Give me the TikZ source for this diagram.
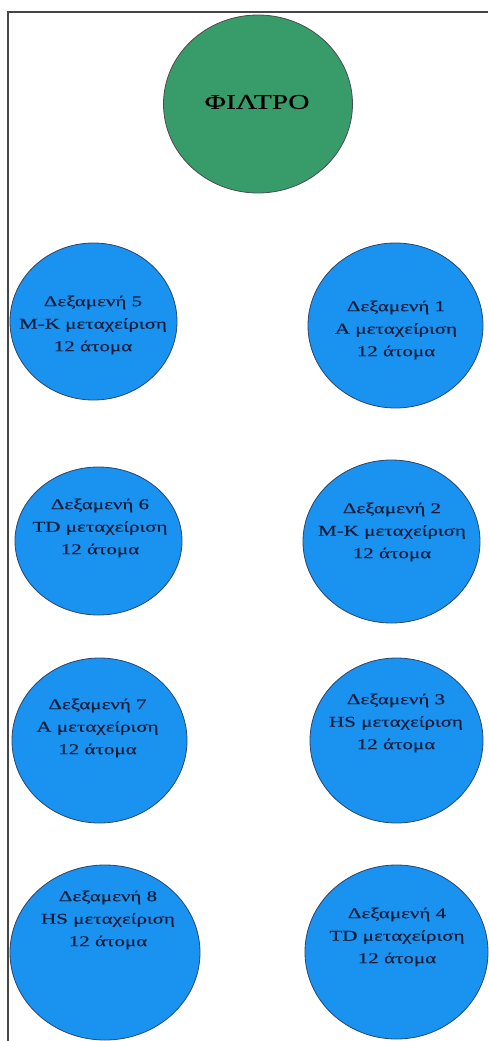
\documentclass[tikz,border=0pt]{standalone}
\usepackage{fontspec}
\setmainfont{Liberation Serif}
\newfontfamily\grfont[FakeStretch=1.4,FakeBold=0.6]{Liberation Serif}
\usetikzlibrary{shapes.geometric}
\definecolor{filtergreen}{RGB}{56,156,106}
\definecolor{tankblue}{RGB}{26,146,240}
\definecolor{tankline}{RGB}{40,70,110}
\definecolor{frameline}{RGB}{70,70,70}
\definecolor{tanktextcol}{RGB}{20,30,60}
\tikzset{
  tank/.style={ellipse, draw=tankline, line width=0.8pt, fill=tankblue, inner sep=0pt},
  filt/.style={ellipse, draw=black!70, line width=0.8pt, fill=filtergreen, inner sep=0pt},
  tanktext/.style={align=center, inner sep=0pt, text=tanktextcol, font=\grfont\fontsize{15}{22.5}\selectfont},
  filttext/.style={inner sep=0pt, text=black, font=\grfont\fontsize{21}{24}\selectfont},
  frame/.style={draw=frameline, line width=1.8pt}
}
\begin{document}
\begin{tikzpicture}[x=1pt,y=-1pt]
\useasboundingbox (0,0) rectangle (488,1041);
\coordinate (tl) at (8,12);
\coordinate (tr) at (488,12);
\coordinate (bl) at (8,1041);
\draw[frame] (tr) -- (tl) -- (bl);

\node[filt, minimum width=189pt, minimum height=178pt] (f) at (258,104) {};
\node[filttext] (ft) at (257,102) {ΦΙΛΤΡΟ};

\node[tank, minimum width=167pt, minimum height=157pt] (d5) at (93.5,321.5) {};
\node[tanktext] (d5t) at (93,325) {Δεξαμενή 5\\M-K μεταχείριση\\12 άτομα};

\node[tank, minimum width=175pt, minimum height=165pt] (d1) at (395.5,325.5) {};
\node[tanktext] (d1t) at (396,330) {Δεξαμενή 1\\A μεταχείριση\\12 άτομα};

\node[tank, minimum width=167pt, minimum height=148pt] (d6) at (98.5,541) {};
\node[tanktext] (d6t) at (100,528) {Δεξαμενή 6\\TD μεταχείριση\\12 άτομα};

\node[tank, minimum width=177pt, minimum height=163pt] (d2) at (391.5,541.5) {};
\node[tanktext] (d2t) at (392,532) {Δεξαμενή 2\\M-K μεταχείριση\\12 άτομα};

\node[tank, minimum width=175pt, minimum height=165pt] (d7) at (99.5,740.5) {};
\node[tanktext] (d7t) at (97.5,728) {Δεξαμενή 7\\A μεταχείριση\\12 άτομα};

\node[tank, minimum width=173pt, minimum height=165pt] (d3) at (396.5,740.5) {};
\node[tanktext] (d3t) at (396,723) {Δεξαμενή 3\\HS μεταχείριση\\12 άτομα};

\node[tank, minimum width=190pt, minimum height=175pt] (d8) at (105,952.5) {};
\node[tanktext] (d8t) at (108,920) {Δεξαμενή 8\\HS μεταχείριση\\12 άτομα};

\node[tank, minimum width=183pt, minimum height=174pt] (d4) at (396.5,952) {};
\node[tanktext] (d4t) at (397,937) {Δεξαμενή 4\\TD μεταχείριση\\12 άτομα};
\end{tikzpicture}
\end{document}
